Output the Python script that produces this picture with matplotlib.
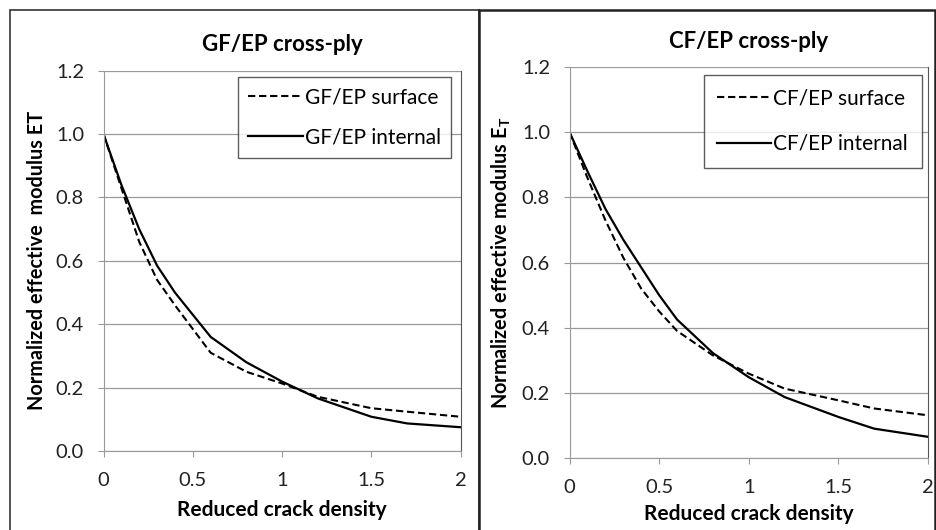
import matplotlib
matplotlib.use('Agg')
import matplotlib.pyplot as plt
from matplotlib.patches import Rectangle

plt.rcParams['font.family'] = ['Lato', 'DejaVu Sans']
plt.rcParams['mathtext.fontset'] = 'custom'
plt.rcParams['mathtext.bf'] = 'Lato:bold'
plt.rcParams['mathtext.rm'] = 'Lato'

# reduced crack density
x = [0, 0.1, 0.2, 0.3, 0.4, 0.5, 0.6, 0.8, 1.0, 1.2, 1.5, 1.7, 2.0]

# GF/EP cross-ply
gf_surface = [1.0, 0.83, 0.66, 0.54, 0.46, 0.385, 0.31, 0.25, 0.213, 0.171, 0.135, 0.124, 0.108]
gf_internal = [1.0, 0.84, 0.70, 0.585, 0.50, 0.43, 0.36, 0.28, 0.219, 0.166, 0.108, 0.087, 0.075]

# CF/EP cross-ply
cf_surface = [1.0, 0.86, 0.73, 0.615, 0.52, 0.45, 0.39, 0.315, 0.259, 0.213, 0.177, 0.152, 0.131]
cf_internal = [1.0, 0.88, 0.765, 0.67, 0.585, 0.50, 0.425, 0.322, 0.248, 0.187, 0.126, 0.09, 0.065]

W, H = 936, 530

panels = [
    dict(title='GF/EP cross-ply', name='GF/EP', surf=gf_surface, intern=gf_internal,
         ylab='Normalized effective  modulus ET',
         box=(103.5, 70.7, 460.7, 451), leg=(238, 76.7), ls=0.98, bp=0.5, lp=8),
    dict(title='CF/EP cross-ply', name='CF/EP', surf=cf_surface, intern=cf_internal,
         ylab=r'Normalized effective modulus E$_{\mathbf{T}}$',
         box=(569.5, 67, 928, 458), leg=(703.5, 75), ls=1.22, bp=0.65, lp=6),
]

fig = plt.figure(figsize=(W / 100, H / 100), dpi=100)

# panel frames
fig.patches.append(Rectangle((10 / W, -0.1), 469 / W, 1.1 - 10 / H,
                             transform=fig.transFigure, fill=False,
                             edgecolor='#333333', linewidth=1.2))
fig.patches.append(Rectangle((479 / W, -0.1), 456 / W, 1.1 - 10 / H,
                             transform=fig.transFigure, fill=False,
                             edgecolor='#222222', linewidth=1.8))

for p in panels:
    x0, y0, x1, y1 = p['box']
    ax = fig.add_axes([x0 / W, 1 - y1 / H, (x1 - x0) / W, (y1 - y0) / H])
    ax.plot(x, p['surf'], color='black', linestyle=(0, (3.5, 1.8)), linewidth=1.5,
            label=p['name'] + ' surface')
    ax.plot(x, p['intern'], color='black', linestyle='-', linewidth=1.6,
            label=p['name'] + ' internal')
    ax.set_xlim(0, 2)
    ax.set_ylim(0, 1.2)
    ax.set_xticks([0, 0.5, 1, 1.5, 2])
    ax.set_xticklabels(['0', '0.5', '1', '1.5', '2'])
    ax.set_yticks([0, 0.2, 0.4, 0.6, 0.8, 1.0, 1.2])
    ax.set_yticklabels(['0.0', '0.2', '0.4', '0.6', '0.8', '1.0', '1.2'])
    ax.yaxis.grid(True, color='#999999', linewidth=0.9)
    ax.set_axisbelow(True)
    for s in ['left', 'bottom']:
        ax.spines[s].set_color('#999999')
    ax.spines['top'].set_visible(False)
    ax.spines['right'].set_color('#555555')
    ax.tick_params(axis='both', labelsize=14.5, colors='#999999',
                   labelcolor='#222222', length=4, direction='out')
    ax.tick_params(axis='x', pad=11)
    ax.tick_params(axis='y', pad=10)
    ax.set_title(p['title'], fontsize=16, fontweight='bold', pad=14)
    ax.set_xlabel('Reduced crack density', fontsize=15, fontweight='bold',
                  labelpad=p['lp'])
    ax.set_ylabel(p['ylab'], fontsize=14.3, fontweight='bold', labelpad=6)
    lx, ly = p['leg']
    leg = ax.legend(loc='upper left', bbox_to_anchor=(lx / W, 1 - ly / H),
                    bbox_transform=fig.transFigure,
                    fontsize=15, frameon=True, fancybox=False,
                    edgecolor='#333333', handlelength=2.6, handletextpad=0.1,
                    borderpad=p['bp'], labelspacing=p['ls'], borderaxespad=0.0)
    leg.get_frame().set_linewidth(1.0)

fig.savefig('out.png', dpi=100)
